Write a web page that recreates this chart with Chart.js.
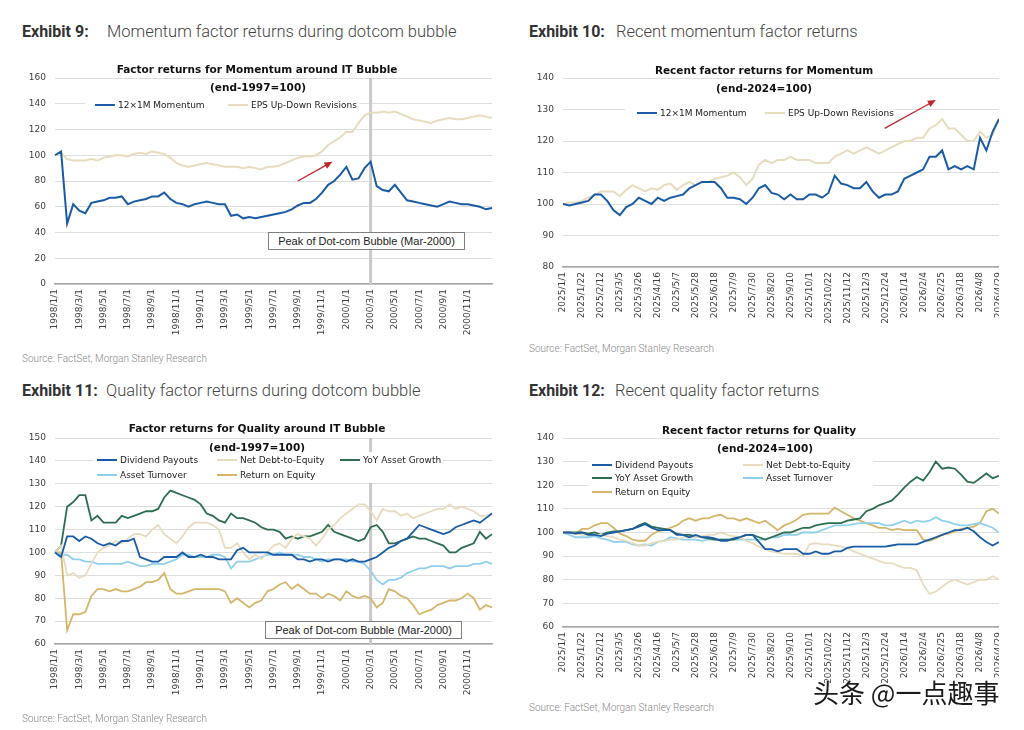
<!DOCTYPE html>
<html>
<head>
<meta charset="utf-8">
<title>Momentum and quality factor returns</title>
<script src="https://cdn.jsdelivr.net/npm/chart.js@4.4.1/dist/chart.umd.min.js"></script>
<style>
  html,body{margin:0;padding:0;background:#fff}
  body{position:relative;width:1024px;height:730px;overflow:hidden;font-family:Roboto,"Noto Sans",sans-serif}
  canvas{position:absolute}
  .t{position:absolute;white-space:nowrap}
  .exh{font-size:16px;line-height:20px;font-weight:700;color:#333}
  .exht{font-size:16.5px;line-height:20px;font-weight:300;color:#444}
  .ct{font-family:"DejaVu Sans";font-weight:700;font-size:10.5px;line-height:14px;color:#111;transform:translateX(-50%)}
  .src{font-size:10px;line-height:12px;font-weight:300;color:#888}
  .legbox{position:absolute;background:#fff}
  .li{font-family:"DejaVu Sans";font-size:9px;line-height:12px;color:#222}
  .li i{display:inline-block;width:20px;height:2px;margin-right:3px;vertical-align:middle;position:relative;top:-1px}
  .peak{position:absolute;box-sizing:border-box;border:1px solid #7f7f7f;background:#fff;font-family:"Liberation Sans",Arial,sans-serif;font-size:11px;line-height:16px;text-align:center;color:#222}
  .wm{font-family:"Noto Sans CJK SC";font-size:26px;line-height:30px;color:#1b1b1b;text-shadow:0 0 2px #fff,0 0 2px #fff}
</style>
</head>
<body>
<canvas id="c9" width="480" height="290" style="left:20px;top:60px"></canvas>
<canvas id="c10" width="479" height="280" style="left:520px;top:60px"></canvas>
<canvas id="c11" width="480" height="295" style="left:20px;top:420px"></canvas>
<canvas id="c12" width="479" height="275" style="left:520px;top:420px"></canvas>
<script>
// tick labels shown on the axes
const dotcomTicks = ["1998/1/1","1998/3/1","1998/5/1","1998/7/1","1998/9/1","1998/11/1","1999/1/1","1999/3/1","1999/5/1",
  "1999/7/1","1999/9/1","1999/11/1","2000/1/1","2000/3/1","2000/5/1","2000/7/1","2000/9/1","2000/11/1"];
const recentTicks = ["2025/1/1","2025/1/22","2025/2/12","2025/3/5","2025/3/26","2025/4/16","2025/5/7","2025/5/28","2025/6/18",
  "2025/7/9","2025/7/30","2025/8/20","2025/9/10","2025/10/1","2025/10/22","2025/11/12","2025/12/3","2025/12/24",
  "2026/1/14","2026/2/4","2026/2/25","2026/3/18","2026/4/8","2026/4/29"];

// categories: half-monthly 1998/1/1 .. 2001/1/1, weekly 2025/1/1 .. 2026/4/29
const dotcomDates = [];
for (let i = 0; i < 73; i++) {
  const m = Math.floor(i / 2);
  dotcomDates.push((1998 + Math.floor(m / 12)) + "/" + (m % 12 + 1) + "/" + (i % 2 ? 16 : 1));
}
const recentDates = [];
const d0 = new Date(Date.UTC(2025, 0, 1));
for (let i = 0; i < 70; i++) {
  recentDates.push(d0.getUTCFullYear() + "/" + (d0.getUTCMonth() + 1) + "/" + d0.getUTCDate());
  d0.setUTCDate(d0.getUTCDate() + 7);
}

// Exhibit 9 (end-1997=100)
const momNames = ["12\u00d71M Momentum", "EPS Up-Down Revisions"];
const momDotcom = [100,103,47,62,57,55,63,64,65,67, 67,68,62,64,65,66,68,68,71,66,
  63,62,60,62,63,64,63,62,62,53, 54,51,52,51,52,53,54,55,56,58,
  61,63,63,66,71,77,80,85,91,81, 82,90,95,76,73,72,77,71,65,64,
  63,62,61,60,62,64,63,62,62,61, 60,58,59];
const epsDotcom = [100,102,97,96,96,96,97,96,98,99, 100,100,99,101,102,101,103,102,101,98,
  94,92,91,92,93,94,93,92,91,91, 91,90,91,90,89,91,91,92,94,96,
  98,99,99,100,103,108,111,114,118,118, 125,131,133,133,134,133,134,132,130,128,
  127,126,125,127,128,129,128,128,129,130, 131,130,129];

// Exhibit 10 (end-2024=100)
const momRecent = [100,99.5,100,100.5,101,103,103,101,98,96.5, 99,100,102,101,100,102,101,102,102.5,103,
  105,106,107,107,107,105,102,102,101.5,100, 102,105,106,103.5,103,101.5,103,101.5,101.5,103,
  103,102,103.5,109,106.5,106,105,105,107,104, 102,103,103,104,108,109,110,111,115,115,
  117,111,112,111,112,111,121,117,123,127];
const epsRecent = [100,100.5,100.5,101,102,103,104,104,104,102.5, 104.5,106,105,104,105,104.5,106,106.5,104.5,106,
  107,106,107,107,108,108.5,109,110,108.5,106, 108,112.5,114,113,114,114,115,114,114,114,
  113,113,113,115,116,117,116,117,118,117, 116,117,118,119,120,120,121,121,124,125,
  127,124,124,122,120,120,123,121,122,127];

// Exhibit 11 (end-1997=100)
const qualNames = ["Dividend Payouts", "Net Debt-to-Equity", "YoY Asset Growth", "Asset Turnover", "Return on Equity"];
const divDotcom = [100,98,107,107,105,107,106,104,103,104, 103,105,105,106,98,97,96,96,98,98,
  98,100,98,98,99,98,98,97,97,97, 101,102,100,100,100,100,99,99,99,99,
  97,97,96,97,97,96,97,97,96,97, 96,96,97,98,100,102,103,105,106,109,
  112,111,110,109,108,109,111,112,113,114, 113,115,117];
const debtDotcom = [100,103,90,91,89,90,95,100,102,103, 105,104,106,108,108,107,110,112,108,106,
  104,107,111,113,113,113,112,110,102,102, 104,100,97,99,97,100,103,104,102,106,
  108,107,106,103,106,110,112,115,117,119, 121,121,118,114,119,118,118,116,117,115,
  116,117,118,119,119,121,119,120,119,118, 116,116,117];
const growDotcom = [100,103,120,122,125,125,114,116,113,113, 113,116,115,116,117,118,118,119,124,127,
  126,125,124,123,121,117,116,114,113,117, 115,115,114,113,111,110,110,109,106,107,
  106,107,107,108,109,112,109,108,107,106, 105,106,111,112,109,104,104,105,106,107,
  106,106,105,104,103,100,100,102,103,104, 109,106,108];
const turnDotcom = [100,99,99,97,97,96,96,95,95,95, 95,95,96,95,94,94,95,95,95,96,
  97,99,99,98,98,98,99,99,98,93, 96,96,96,97,98,99,99,100,99,99,
  99,98,98,97,96,97,97,97,97,96, 96,95,92,88,86,88,88,89,91,92,
  93,93,94,94,94,93,94,94,94,95, 95,96,95];
const roeDotcom = [100,100,66,73,73,74,81,84,84,83, 84,83,83,84,85,87,87,88,91,84,
  82,82,83,84,84,84,84,84,83,78, 80,78,76,78,79,83,84,86,87,84,
  86,84,82,82,80,82,81,79,83,81, 80,81,80,76,78,84,83,81,80,77,
  73,74,75,77,78,79,79,80,82,80, 75,77,76];

// Exhibit 12 (end-2024=100)
const divRecent = [100,100,99.5,100,99,99,98.5,99.5,100,100.5, 101,101.5,102.5,103.5,102,101,101,101,99,99,
  98,99,98,98,97.5,96.5,96.5,97.5,98,99, 99,96,93,93,92,93,93,93,91,91,
  92,91,91,92,92,93.5,94,94,94,94, 94,94,94.5,95,95,95,95,96,97,98,
  99,100,101,101,102,100.5,98,96,94.5,96];
const debtRecent = [100,100,99.5,99,99,99,99,98.5,98,97, 96.5,95.5,94.5,94.5,95.5,96,96.5,97,97,98,
  98,98,98.5,99,99,100,99,98.5,98,96.5, 95.5,94,93,92,91.5,91,91,91,90,95,
  95.5,95,95,94.5,94,93.5,92,91,90,89, 88,87,87,86,85,85,84,78,74,75,
  77,79,80,79,78,79,80,80,81.5,80];
const growRecent = [100,100,100,100,99.5,100,99,100,100.5,100.5, 101,101.5,103,104,102.5,102,101.5,101,99.5,99,
  99,98.5,98,97.5,97,97,97,97,98,99, 99,98,97,98,99,100,100,101,102,102,
  103,103.5,104,104,104,105,105.5,106,109,110, 111.5,112.5,113.5,116,119,121.5,123.5,122,125.5,130,
  127,127.5,127,124.5,121.5,121,123,125,123,124];
const turnRecent = [100,99,98,98,98,98.5,97.5,97,96,96, 96,95,94.5,95,94.5,96,96.5,98,97.5,97,
  97,97,96.5,97,97,97,97,97,97,97, 97,97,97,98,98,99,99,99,100,100,
  100,101,102,103,103,103,103.5,104,104,104, 104,103,103,104,105,104,105,104.5,105,106.5,
  105,104.5,103.5,103,103,103.5,104,103,102,100];
const roeRecent = [100,100,99.5,101.5,101.5,103,104,104,102,99.5, 98.5,97,96.5,96.5,99,100.5,101,102,103,105,
  106,105,106,106,107,107.5,106,106,105,106, 105,104,105,103,101,103,104,105.5,107.5,108,
  108,108,108,110.5,109,107.5,106,105,104,103, 102,102,101,101.5,101,101,101,97,96.5,97.5,
  99,99.5,100.5,101.5,102,102.5,104,109,110,108];

const blue = "#1a5ba6", beige = "#e8dcbf", green = "#2d6e50", sky = "#8fd0ee", gold = "#d6b66a";
const peakLabel = "2000/3/1";

// grey vertical line at the bubble peak
const peakPlugin = {
  id: "peakLine",
  beforeDatasetsDraw(chart, args, o) {
    if (o.at == null) return;
    const {ctx, chartArea: a, scales: {x}} = chart;
    const px = x.getPixelForValue(chart.data.labels.indexOf(o.at));
    ctx.save();
    ctx.strokeStyle = "#c9c9c9";
    ctx.lineWidth = 3;
    ctx.beginPath(); ctx.moveTo(px, a.top); ctx.lineTo(px, a.bottom); ctx.stroke();
    ctx.restore();
  }
};

// red arrow, given in data units
const arrowPlugin = {
  id: "arrow",
  afterDatasetsDraw(chart, args, o) {
    if (!o.from) return;
    const {ctx, scales: {x, y}} = chart;
    const x1 = x.getPixelForValue(o.from[0]), y1 = y.getPixelForValue(o.from[1]);
    const x2 = x.getPixelForValue(o.to[0]), y2 = y.getPixelForValue(o.to[1]);
    const a = Math.atan2(y2 - y1, x2 - x1), c = Math.cos(a), s = Math.sin(a);
    ctx.save();
    ctx.strokeStyle = ctx.fillStyle = "#c0272d";
    ctx.lineWidth = 1.3;
    ctx.beginPath(); ctx.moveTo(x1, y1); ctx.lineTo(x2 - 6 * c, y2 - 6 * s); ctx.stroke();
    ctx.beginPath();
    ctx.moveTo(x2, y2);
    ctx.lineTo(x2 - 8 * c + 3.5 * s, y2 - 8 * s - 3.5 * c);
    ctx.lineTo(x2 - 8 * c - 3.5 * s, y2 - 8 * s + 3.5 * c);
    ctx.closePath(); ctx.fill();
    ctx.restore();
  }
};

function makeChart(id, lay, labels, tickList, names, values, colors, width, yr, extra) {
  return new Chart(document.getElementById(id), {
    type: "line",
    data: {
      labels: labels,
      datasets: names.map((n, k) => ({
        label: n, data: values[k], borderColor: colors[k], borderWidth: width,
        pointRadius: 0, tension: 0, fill: false
      }))
    },
    options: {
      responsive: false, animation: false, events: [],
      layout: {padding: {top: lay.top, right: lay.right, left: 0, bottom: 0}},
      plugins: {
        legend: {display: false}, title: {display: false}, tooltip: {enabled: false},
        peakLine: extra.peak || false, arrow: extra.arrow || false
      },
      scales: {
        x: {
          grid: {display: false, drawTicks: false},
          border: {display: true, color: "#a6a6a6", width: 1.5},
          ticks: {
            autoSkip: false, minRotation: 90, maxRotation: 90, padding: 5, color: "#404040",
            font: {family: "DejaVu Sans", size: 9},
            callback(v) { const l = this.getLabelForValue(v); return tickList.includes(l) ? l : ""; }
          },
          afterFit(s) { s.height = lay.xH; s.paddingLeft = 0; s.paddingRight = 0; }
        },
        y: {
          min: yr[0], max: yr[1],
          grid: {color: "#dedede", lineWidth: 1, drawTicks: false},
          border: {display: false},
          ticks: {stepSize: yr[2], padding: 9, color: "#404040", font: {family: "DejaVu Sans", size: 9}},
          afterFit(s) { s.width = lay.yW; s.paddingTop = 0; s.paddingBottom = 0; }
        }
      }
    },
    plugins: [peakPlugin, arrowPlugin]
  });
}

makeChart("c9", {top: 18, right: 8, yW: 35, xH: 66}, dotcomDates, dotcomTicks, momNames,
  [momDotcom, epsDotcom], [blue, beige], 2, [0, 160, 20],
  {peak: {at: peakLabel}, arrow: {from: [40, 80], to: [45.7, 95]}});
makeChart("c10", {top: 18, right: 0, yW: 43, xH: 73}, recentDates, recentTicks, momNames,
  [momRecent, epsRecent], [blue, beige], 2, [80, 140, 10],
  {arrow: {from: [50.9, 124], to: [59, 133]}});
makeChart("c11", {top: 18, right: 8, yW: 35, xH: 71}, dotcomDates, dotcomTicks, qualNames,
  [divDotcom, debtDotcom, growDotcom, turnDotcom, roeDotcom], [blue, beige, green, sky, gold], 1.8, [60, 150, 10],
  {peak: {at: peakLabel}});
makeChart("c12", {top: 18, right: 0, yW: 43, xH: 68}, recentDates, recentTicks, qualNames,
  [divRecent, debtRecent, growRecent, turnRecent, roeRecent], [blue, beige, green, sky, gold], 1.8, [60, 140, 10],
  {});

// text overlays
function put(cls, text, left, top) {
  const d = document.createElement("div");
  d.className = "t " + cls;
  d.textContent = text;
  d.style.left = left + "px";
  d.style.top = top + "px";
  document.body.appendChild(d);
  return d;
}
function legend(box, names, colors, cols, rows) {
  const b = document.createElement("div");
  b.className = "legbox";
  Object.assign(b.style, {left: box[0] + "px", top: box[1] + "px", width: box[2] + "px", height: box[3] + "px"});
  document.body.appendChild(b);
  names.forEach((n, k) => {
    const d = put("li", "", cols[k % cols.length], rows[Math.floor(k / cols.length)]);
    const s = document.createElement("i");
    s.style.background = colors[k];
    d.appendChild(s);
    d.appendChild(document.createTextNode(n));
  });
}
function peakBox(left, top) {
  const d = put("peak", "Peak of Dot-com Bubble (Mar-2000)", left, top);
  d.style.width = "197px"; d.style.height = "18px";
}

put("exh", "Exhibit 9:", 22, 22);  put("exht", "Momentum factor returns during dotcom bubble", 107, 22);
put("exh", "Exhibit 10:", 529, 22); put("exht", "Recent momentum factor returns", 616, 22);
put("exh", "Exhibit 11:", 22, 381); put("exht", "Quality factor returns during dotcom bubble", 106, 381);
put("exh", "Exhibit 12:", 529, 381); put("exht", "Recent quality factor returns", 615, 381);

put("ct", "Factor returns for Momentum around IT Bubble", 257, 62); put("ct", "(end-1997=100)", 258, 80);
put("ct", "Recent factor returns for Momentum", 764, 63); put("ct", "(end-2024=100)", 764, 81);
put("ct", "Factor returns for Quality around IT Bubble", 257, 421); put("ct", "(end-1997=100)", 257, 440);
put("ct", "Recent factor returns for Quality", 759, 423); put("ct", "(end-2024=100)", 765, 441);

legend([85, 98, 275, 15], momNames, [blue, beige], [95, 228], [99]);
legend([625, 105, 270, 14], momNames, [blue, beige], [637, 765], [107]);
legend([93, 452, 350, 31], qualNames, [blue, beige, green, sky, gold], [97, 217, 340], [454, 469]);
legend([588, 457, 285, 42], qualNames, [blue, beige, green, sky, gold], [592, 743], [459, 472, 486]);

peakBox(268, 232);
peakBox(265, 621);

const srcText = "Source: FactSet, Morgan Stanley Research";
put("src", srcText, 22, 353);
put("src", srcText, 529, 343);
put("src", srcText, 22, 713);
put("src", srcText, 529, 702);

put("wm", "\u5934\u6761 @\u4e00\u70b9\u8da3\u4e8b", 813, 677);
</script>
</body>
</html>
